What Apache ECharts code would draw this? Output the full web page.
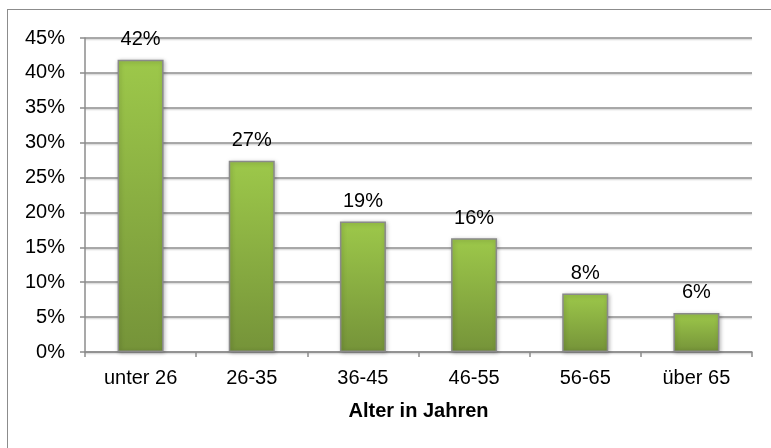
<!DOCTYPE html>
<html>
<head>
<meta charset="utf-8">
<script src="https://cdn.jsdelivr.net/npm/echarts@6/dist/echarts.min.js"></script>
<style>
html,body{margin:0;padding:0;background:#fff;}
#wrap{position:relative;width:771px;height:448px;overflow:hidden;}
#frame{position:absolute;left:7px;top:9px;width:800px;height:500px;border:1px solid #8c8c8c;box-sizing:border-box;}
#chart{position:absolute;left:0;top:0;width:771px;height:448px;}
</style>
</head>
<body>
<div id="wrap"><div id="frame"></div><div id="chart"></div></div>
<script>
var categories = ['unter 26', '26-35', '36-45', '46-55', '56-65', 'über 65'];
var values = [41.9, 27.4, 18.7, 16.3, 8.4, 5.6];
var yTicks = {min: 0, max: 45, interval: 5};
var xAxisName = 'Alter in Jahren';

var font = '"Liberation Sans", Arial, sans-serif';
var chart = echarts.init(document.getElementById('chart'), null, {renderer: 'canvas'});
chart.setOption({
  animation: false,
  grid: {left: 85, right: 19, top: 38, bottom: 96, containLabel: false},
  xAxis: {
    type: 'category',
    data: categories,
    name: xAxisName,
    nameLocation: 'middle',
    nameGap: 49,
    nameTextStyle: {fontFamily: font, fontSize: 20, fontWeight: 'bold', color: '#000'},
    axisLine: {lineStyle: {color: '#8c8c8c', width: 1.5}},
    axisTick: {show: true, length: 5, lineStyle: {color: '#8c8c8c', width: 1.5}},
    axisLabel: {fontFamily: font, fontSize: 20, color: '#000', margin: 16}
  },
  yAxis: {
    type: 'value',
    min: yTicks.min, max: yTicks.max, interval: yTicks.interval,
    axisLine: {show: true, lineStyle: {color: '#8c8c8c', width: 1.5}},
    axisTick: {show: true, length: 5, lineStyle: {color: '#8c8c8c', width: 1.5}},
    axisLabel: {fontFamily: font, fontSize: 20, color: '#000', margin: 20, formatter: function(v){return v + '%';}},
    splitLine: {lineStyle: {color: '#8c8c8c', width: 1.5, shadowColor: 'rgba(0,0,0,0.15)', shadowOffsetY: 1.5, shadowBlur: 1}}
  },
  series: [{
    type: 'bar',
    data: values,
    barWidth: 46,
    itemStyle: {
      color: new echarts.graphic.LinearGradient(0, 0, 0, 1, [
        {offset: 0, color: '#9dc84a'},
        {offset: 1, color: '#759339'}
      ]),
      borderColor: '#8a8a8a',
      borderWidth: 1.5,
      shadowColor: 'rgba(0,0,0,0.25)',
      shadowBlur: 4,
      shadowOffsetX: 1,
      shadowOffsetY: 1
    },
    label: {
      show: true,
      position: 'top',
      distance: 10,
      fontFamily: font,
      fontSize: 20,
      color: '#000',
      formatter: function(p){return Math.round(p.value) + '%';}
    }
  }]
});
</script>
</body>
</html>
